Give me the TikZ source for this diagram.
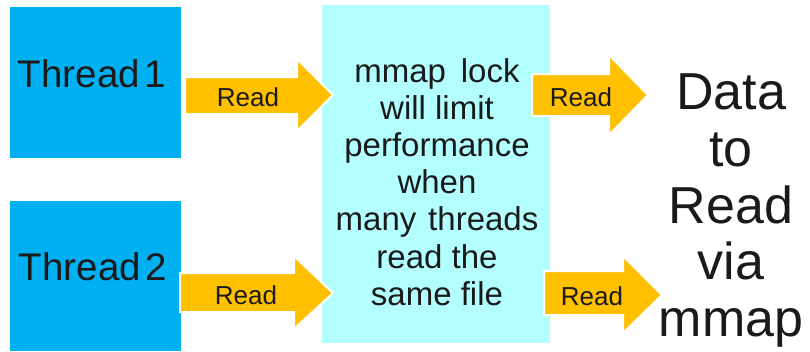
\documentclass[tikz,border=0pt]{standalone}
\usepackage{fontspec}
\setmainfont{Liberation Sans}
\definecolor{threadblue}{HTML}{00B0F0}
\definecolor{lockcyan}{HTML}{B3FFFF}
\definecolor{readorange}{HTML}{FFC000}
\definecolor{ink}{HTML}{1A1A1A}
\tikzset{
  box/.style={draw=none, inner sep=0pt, anchor=north west},
  threadbox/.style={box, fill=threadblue},
  lockbox/.style={box, fill=lockcyan},
  blockarrow/.style={fill=readorange, draw=white, line width=2bp, line join=miter},
  threadlbl/.style={anchor=base, text=ink, inner sep=0pt, font=\fontsize{38.5bp}{40bp}\selectfont},
  readlbl/.style={anchor=base, text=ink, inner sep=0pt, font=\fontsize{26bp}{28bp}\selectfont},
  locklbl/.style={align=center, text=ink, inner sep=0pt, font=\fontsize{33bp}{37.2bp}\selectfont},
  datalbl/.style={align=center, text=ink, inner sep=0pt, font=\fontsize{52bp}{56.75bp}\selectfont},
}
\begin{document}
\begin{tikzpicture}[x=1bp, y=-1bp]
\useasboundingbox[fill=white] (0,0) rectangle (810,351);

% thread boxes
\node[threadbox, minimum width=171bp, minimum height=151bp] (t1) at (10,7) {};
\node[threadbox, minimum width=171bp, minimum height=150bp] (t2) at (10,201) {};
\node[threadlbl] (t1l) at (92,87) {Thread\hspace{0.12em}1};
\node[threadlbl] (t2l) at (93,280) {Thread\hspace{0.12em}2};

% shared mmap lock
\node[lockbox, minimum width=228bp, minimum height=338bp] (lock) at (322,5) {};
\node[locklbl] (lockl) at (437,181.8) {mmap\hspace{0.45em}lock\\will limit\\performance\\when\\many\hspace{0.36em}threads\\read the\\same file};

% block arrows
\draw[blockarrow] (185,77) -- (297,77) -- (297,59) -- (333,95) -- (297,131) -- (297,114) -- (185,114) -- cycle;
\draw[blockarrow] (180,273) -- (294,273) -- (294,256) -- (333,293) -- (294,329) -- (294,312) -- (180,312) -- cycle;
\draw[blockarrow] (532,74) -- (609,74) -- (609,55) -- (648,95) -- (609,135) -- (609,116) -- (532,116) -- cycle;
\draw[blockarrow] (544,271) -- (623,271) -- (623,256) -- (662,295) -- (623,333) -- (623,315) -- (544,315) -- cycle;
\node[readlbl] (r1) at (248,106) {Read};
\node[readlbl] (r2) at (246,304) {Read};
\node[readlbl] (r3) at (581,106) {Read};
\node[readlbl] (r4) at (592,305) {Read};

% data target
\node[datalbl] (data) at (731,210.7) {Data\\to\\Read\\via\\mmap};
\end{tikzpicture}
\end{document}
